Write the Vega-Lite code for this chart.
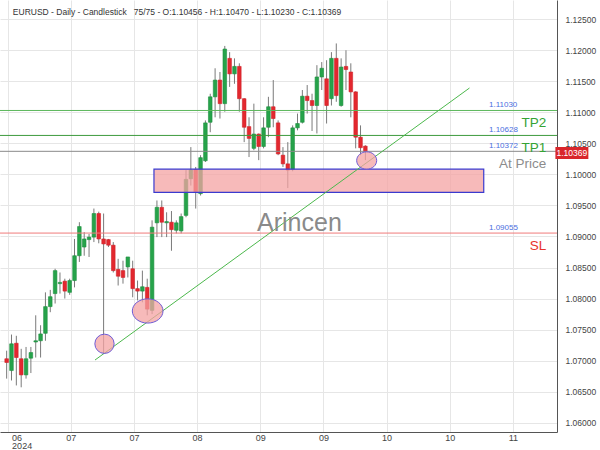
{
  "$schema": "https://vega.github.io/schema/vega-lite/v6.json",
  "width": 557,
  "height": 432,
  "autosize": "none",
  "padding": {"left": 0, "top": 0, "right": 43, "bottom": 18},
  "background": "white",
  "config": {"view": {"stroke": null}, "font": "Liberation Sans", "axisY": {"labelOverlap": false, "labelSeparation": 0}},
  "datasets": {
    "candles": [
      {"i":0,"open":1.0703,"high":1.0716,"low":1.0671,"close":1.0697},
      {"i":1,"open":1.0684,"high":1.0742,"low":1.0668,"close":1.0727},
      {"i":2,"open":1.0728,"high":1.0740,"low":1.0660,"close":1.0705},
      {"i":3,"open":1.0703,"high":1.0719,"low":1.0657,"close":1.0677},
      {"i":4,"open":1.0677,"high":1.0722,"low":1.0671,"close":1.0703},
      {"i":5,"open":1.0704,"high":1.0722,"low":1.0680,"close":1.0713},
      {"i":6,"open":1.0730,"high":1.0773,"low":1.0705,"close":1.0732},
      {"i":7,"open":1.0732,"high":1.0757,"low":1.0705,"close":1.0743},
      {"i":8,"open":1.0744,"high":1.0810,"low":1.0732,"close":1.0787},
      {"i":9,"open":1.0787,"high":1.0814,"low":1.0778,"close":1.0803},
      {"i":10,"open":1.0808,"high":1.0848,"low":1.0792,"close":1.0845},
      {"i":11,"open":1.0824,"high":1.0842,"low":1.0808,"close":1.0826},
      {"i":12,"open":1.0828,"high":1.0832,"low":1.0800,"close":1.0812},
      {"i":13,"open":1.0810,"high":1.0832,"low":1.0806,"close":1.0829},
      {"i":14,"open":1.0829,"high":1.0896,"low":1.0818,"close":1.0869},
      {"i":15,"open":1.0869,"high":1.0923,"low":1.0859,"close":1.0916},
      {"i":16,"open":1.0883,"high":1.0907,"low":1.0869,"close":1.0896},
      {"i":17,"open":1.0895,"high":1.0904,"low":1.0867,"close":1.0899},
      {"i":18,"open":1.0899,"high":1.0945,"low":1.0891,"close":1.0937},
      {"i":19,"open":1.0937,"high":1.0940,"low":1.0889,"close":1.0896},
      {"i":20,"open":1.0896,"high":1.0937,"low":1.0711,"close":1.0888},
      {"i":21,"open":1.0895,"high":1.0896,"low":1.0883,"close":1.0886},
      {"i":22,"open":1.0886,"high":1.0891,"low":1.0842,"close":1.0845},
      {"i":23,"open":1.0847,"high":1.0864,"low":1.0821,"close":1.0836},
      {"i":24,"open":1.0845,"high":1.0861,"low":1.0824,"close":1.0834},
      {"i":25,"open":1.0851,"high":1.0867,"low":1.0834,"close":1.0867},
      {"i":26,"open":1.0848,"high":1.0861,"low":1.0802,"close":1.0816},
      {"i":27,"open":1.0816,"high":1.0829,"low":1.0797,"close":1.0812},
      {"i":28,"open":1.0812,"high":1.0845,"low":1.0794,"close":1.0819},
      {"i":29,"open":1.0818,"high":1.0832,"low":1.0773,"close":1.0783},
      {"i":30,"open":1.0781,"high":1.0926,"low":1.0775,"close":1.0915},
      {"i":31,"open":1.0922,"high":1.0958,"low":1.0899,"close":1.0947},
      {"i":32,"open":1.0947,"high":1.0958,"low":1.0899,"close":1.0923},
      {"i":33,"open":1.0922,"high":1.0939,"low":1.0899,"close":1.0924},
      {"i":34,"open":1.0923,"high":1.0941,"low":1.0877,"close":1.0911},
      {"i":35,"open":1.0910,"high":1.0926,"low":1.0905,"close":1.0922},
      {"i":36,"open":1.0909,"high":1.0937,"low":1.0905,"close":1.0932},
      {"i":37,"open":1.0934,"high":1.1007,"low":1.0931,"close":1.0992},
      {"i":38,"open":1.0993,"high":1.1044,"low":1.0982,"close":1.1007},
      {"i":39,"open":1.1008,"high":1.1012,"low":1.0945,"close":1.0972},
      {"i":40,"open":1.0969,"high":1.1031,"low":1.0966,"close":1.1027},
      {"i":41,"open":1.1022,"high":1.1087,"low":1.1020,"close":1.1083},
      {"i":42,"open":1.1084,"high":1.1130,"low":1.1068,"close":1.1125},
      {"i":43,"open":1.1125,"high":1.1171,"low":1.1092,"close":1.1152},
      {"i":44,"open":1.1152,"high":1.1165,"low":1.1090,"close":1.1114},
      {"i":45,"open":1.1114,"high":1.1207,"low":1.1101,"close":1.1202},
      {"i":46,"open":1.1187,"high":1.1197,"low":1.1141,"close":1.1162},
      {"i":47,"open":1.1162,"high":1.1187,"low":1.1146,"close":1.1174},
      {"i":48,"open":1.1174,"high":1.1179,"low":1.1101,"close":1.1122},
      {"i":49,"open":1.1122,"high":1.1123,"low":1.1052,"close":1.1076},
      {"i":50,"open":1.1077,"high":1.1092,"low":1.1028,"close":1.1058},
      {"i":51,"open":1.1042,"high":1.1114,"low":1.1039,"close":1.1065},
      {"i":52,"open":1.1065,"high":1.1066,"low":1.1023,"close":1.1045},
      {"i":53,"open":1.1045,"high":1.1092,"low":1.1042,"close":1.1075},
      {"i":54,"open":1.1076,"high":1.1125,"low":1.1060,"close":1.1109},
      {"i":55,"open":1.1109,"high":1.1152,"low":1.1076,"close":1.1090},
      {"i":56,"open":1.1083,"high":1.1087,"low":1.1031,"close":1.1033},
      {"i":57,"open":1.1031,"high":1.1044,"low":1.1012,"close":1.1017},
      {"i":58,"open":1.1017,"high":1.1052,"low":1.0978,"close":1.1007},
      {"i":59,"open":1.1008,"high":1.1079,"low":1.1005,"close":1.1075},
      {"i":60,"open":1.1075,"high":1.1098,"low":1.1071,"close":1.1082},
      {"i":61,"open":1.1084,"high":1.1136,"low":1.1082,"close":1.1126},
      {"i":62,"open":1.1126,"high":1.1144,"low":1.1098,"close":1.1119},
      {"i":63,"open":1.1119,"high":1.1130,"low":1.1070,"close":1.1111},
      {"i":64,"open":1.1111,"high":1.1176,"low":1.1066,"close":1.1157},
      {"i":65,"open":1.1157,"high":1.1181,"low":1.1136,"close":1.1171},
      {"i":66,"open":1.1154,"high":1.1184,"low":1.1082,"close":1.1111},
      {"i":67,"open":1.1122,"high":1.1197,"low":1.1111,"close":1.1187},
      {"i":68,"open":1.1187,"high":1.1211,"low":1.1117,"close":1.1127},
      {"i":69,"open":1.1111,"high":1.1187,"low":1.1109,"close":1.1173},
      {"i":70,"open":1.1174,"high":1.1200,"low":1.1136,"close":1.1169},
      {"i":71,"open":1.1165,"high":1.1179,"low":1.1092,"close":1.1133},
      {"i":72,"open":1.1133,"high":1.1134,"low":1.1042,"close":1.1060},
      {"i":73,"open":1.1060,"high":1.1079,"low":1.1031,"close":1.1043},
      {"i":74,"open":1.10456,"high":1.10470,"low":1.10230,"close":1.10369}
    ],
    "levels": [
      {"name":"TP2","price":1.1103,"label":"1.11030"},
      {"name":"TP1","price":1.10628,"label":"1.10628"},
      {"name":"At Price","price":1.10372,"label":"1.10372"},
      {"name":"SL","price":1.09055,"label":"1.09055"}
    ]
  },
  "layer": [
    {
      "data": {"name": "candles"},
      "mark": {"type": "rule", "color": "#7a7a7a", "strokeWidth": 1},
      "encoding": {
        "x": {
          "field": "i", "type": "quantitative", "title": null,
          "scale": {"domain": [-0.34, 112.5], "nice": false, "zero": false},
          "axis": {
            "values": [0.2, 13.23, 26.26, 39.29, 52.32, 65.35, 78.38, 91.41, 104.44],
            "tickCount": 20,
            "labelExpr": "datum.value < 1 ? ['06','2024'] : ['06','07','07','08','09','09','10','10','11'][round((datum.value - 0.2) / 13.03)]",
            "grid": true, "gridColor": "#e6e6e6", "ticks": false,
            "domain": true, "domainColor": "#555555",
            "labelFontSize": 9, "labelColor": "#444444", "labelPadding": 1,
            "labelLineHeight": 8.5, "labelOverlap": false,
            "labelFont": "Liberation Sans",
            "labelAlign": {"condition": {"test": "datum.value < 1", "value": "left"}, "value": "center"},
            "labelOffset": {"condition": {"test": "datum.value < 1", "value": 4}, "value": 0}
          }
        },
        "y": {
          "field": "low", "type": "quantitative", "title": null,
          "scale": {"domain": [1.0585, 1.1281], "nice": false, "zero": false},
          "axis": {
            "orient": "right",
            "values": [1.06, 1.065, 1.07, 1.075, 1.08, 1.085, 1.09, 1.095, 1.1, 1.105, 1.11, 1.115, 1.12, 1.125],
            "tickCount": 20,
            "format": ".5f", "grid": true, "gridColor": "#e6e6e6", "ticks": false,
            "domain": true, "domainColor": "#555555", "labelOverlap": false,
            "labelFontSize": 8.5, "labelColor": "#444444", "labelPadding": 8,
            "labelFont": "Liberation Sans"
          }
        },
        "y2": {"field": "high"}
      }
    },
    {
      "data": {"name": "candles"},
      "mark": {"type": "bar", "width": 3.6, "strokeWidth": 0.6},
      "encoding": {
        "x": {"field": "i", "type": "quantitative", "title": null},
        "y": {"field": "open", "type": "quantitative", "title": null},
        "y2": {"field": "close"},
        "color": {"condition": {"test": "datum.close >= datum.open", "value": "#26a34a"}, "value": "#e3282f"},
        "stroke": {"condition": {"test": "datum.close >= datum.open", "value": "#1f8f3f"}, "value": "#d02228"}
      }
    },
    {
      "data": {"values": [{"start": 30.39, "end": 98.42, "top": 1.10084, "bottom": 1.09712}]},
      "mark": {"type": "rect", "fill": "#f4a3a3", "fillOpacity": 0.75, "stroke": "#3a3acf", "strokeWidth": 1.2},
      "encoding": {
        "x": {"field": "start", "type": "quantitative", "title": null},
        "x2": {"field": "end"},
        "y": {"field": "top", "type": "quantitative", "title": null},
        "y2": {"field": "bottom"}
      }
    },
    {
      "data": {"name": "levels"},
      "mark": {"type": "rule", "strokeWidth": 1},
      "encoding": {
        "y": {"field": "price", "type": "quantitative", "title": null},
        "stroke": {"field": "name", "type": "nominal", "legend": null,
          "scale": {"domain": ["TP2", "TP1", "At Price", "SL"], "range": ["#5cb85c", "#3d9a3d", "#8a8a8a", "#f07a7a"]}}
      }
    },
    {
      "data": {"name": "levels"},
      "mark": {"type": "text", "align": "left", "baseline": "alphabetic", "dy": -3, "fontSize": 8, "color": "#4a6ee0"},
      "encoding": {
        "x": {"datum": 99.5, "type": "quantitative"},
        "y": {"field": "price", "type": "quantitative", "title": null},
        "text": {"field": "label"}
      }
    },
    {
      "data": {"name": "levels"},
      "mark": {"type": "text", "align": "right", "baseline": "alphabetic", "dy": 17, "fontSize": 13.5},
      "encoding": {
        "x": {"datum": 111.3, "type": "quantitative"},
        "y": {"field": "price", "type": "quantitative", "title": null},
        "text": {"field": "name"},
        "fill": {"field": "name", "type": "nominal", "legend": null,
          "scale": {"domain": ["TP2", "TP1", "At Price", "SL"], "range": ["#34a334", "#34a334", "#8c8c8c", "#e8342c"]}}
      }
    },
    {
      "data": {"values": [{"i": 18.23, "v": 1.0701}, {"i": 95.48, "v": 1.11392}]},
      "mark": {"type": "line", "color": "#4cb84c", "strokeWidth": 1},
      "encoding": {
        "x": {"field": "i", "type": "quantitative", "title": null},
        "y": {"field": "v", "type": "quantitative", "title": null}
      }
    },
    {
      "data": {"values": [{"i": 20.18, "v": 1.07271}]},
      "mark": {"type": "point", "shape": "circle", "size": 372, "filled": true, "fill": "#f4a3a3", "fillOpacity": 0.75, "stroke": "#6e5bd6", "strokeWidth": 1, "opacity": 1},
      "encoding": {
        "x": {"field": "i", "type": "quantitative", "title": null},
        "y": {"field": "v", "type": "quantitative", "title": null}
      }
    },
    {
      "data": {"values": [{"i": 29.09, "v": 1.078}]},
      "mark": {"type": "point", "shape": "M -1 0 A 1 0.79 0 1 0 1 0 A 1 0.79 0 1 0 -1 0 Z", "size": 942, "filled": true, "fill": "#f4a3a3", "fillOpacity": 0.75, "stroke": "#6e5bd6", "strokeWidth": 1, "opacity": 1},
      "encoding": {
        "x": {"field": "i", "type": "quantitative", "title": null},
        "y": {"field": "v", "type": "quantitative", "title": null}
      }
    },
    {
      "data": {"values": [{"i": 74.27, "v": 1.10224}]},
      "mark": {"type": "point", "shape": "M -1 0 A 1 0.87 0 1 0 1 0 A 1 0.87 0 1 0 -1 0 Z", "size": 400, "filled": true, "fill": "#f4a3a3", "fillOpacity": 0.75, "stroke": "#6e5bd6", "strokeWidth": 1, "opacity": 1},
      "encoding": {
        "x": {"field": "i", "type": "quantitative", "title": null},
        "y": {"field": "v", "type": "quantitative", "title": null}
      }
    },
    {
      "data": {"values": [{"i": 60.4, "v": 1.09217, "t": "Arincen"}]},
      "mark": {"type": "text", "fontSize": 25, "color": "#8a8a8a", "align": "center", "baseline": "middle"},
      "encoding": {
        "x": {"field": "i", "type": "quantitative", "title": null},
        "y": {"field": "v", "type": "quantitative", "title": null},
        "text": {"field": "t"}
      }
    },
    {
      "data": {"values": [{"i": 1.28, "v": 1.12568, "t": "EURUSD - Daily - Candlestick\u00a0\u00a0\u00a075/75 - O:1.10456 - H:1.10470 - L:1.10230 - C:1.10369"}]},
      "mark": {"type": "text", "fontSize": 8.5, "color": "#333333", "align": "left", "baseline": "alphabetic"},
      "encoding": {
        "x": {"field": "i", "type": "quantitative", "title": null},
        "y": {"field": "v", "type": "quantitative", "title": null},
        "text": {"field": "t"}
      }
    },
    {
      "data": {"values": [{"a": 113.2, "b": 120.0, "top": 1.10442, "bottom": 1.10248}]},
      "mark": {"type": "rect", "fill": "#d9262b"},
      "encoding": {
        "x": {"field": "a", "type": "quantitative", "title": null},
        "x2": {"field": "b"},
        "y": {"field": "top", "type": "quantitative", "title": null},
        "y2": {"field": "bottom"}
      }
    },
    {
      "data": {"values": [{"i": 116.6, "v": 1.10345, "t": "1.10369"}]},
      "mark": {"type": "text", "fontSize": 8.5, "color": "#ffffff", "align": "center", "baseline": "middle"},
      "encoding": {
        "x": {"field": "i", "type": "quantitative", "title": null},
        "y": {"field": "v", "type": "quantitative", "title": null},
        "text": {"field": "t"}
      }
    }
  ]
}
